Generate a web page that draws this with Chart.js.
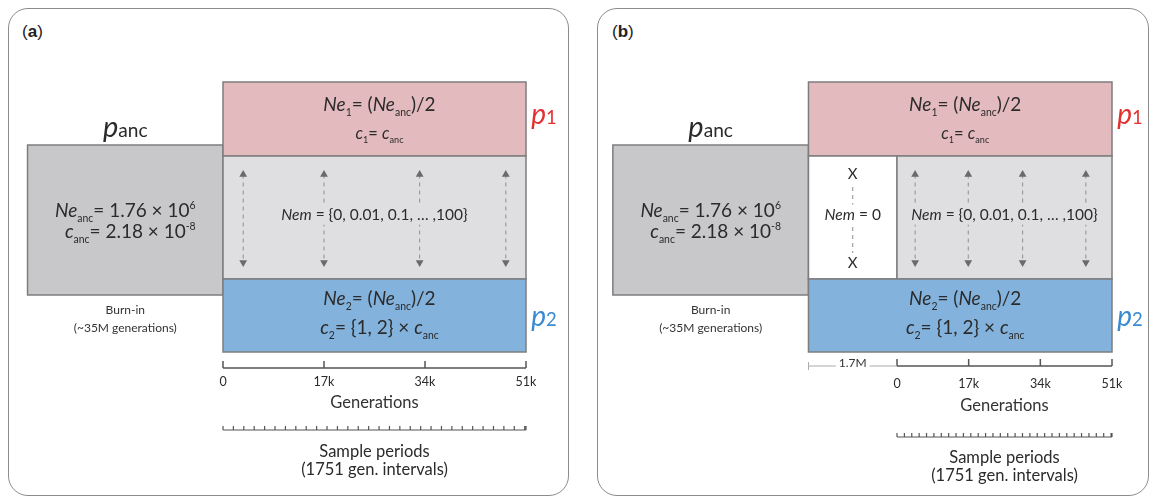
<!DOCTYPE html>
<html lang="en">
<head>
<meta charset="UTF-8">
<title>Simulation design: burn-in, split and gene flow</title>
<style>
    body { margin: 0; background: #fff; font-family: Lato, sans-serif; }
    #wrap { position: relative; width: 1156px; height: 500px; overflow: hidden; }
    .panel { position: absolute; top: 8px; height: 488px; border: 1.5px solid #8c8c8c; border-radius: 20px; box-sizing: border-box; }
    #panelA { left: 8px; width: 561px; }
    #panelB { left: 597px; width: 552px; }
    .tag { position: absolute; top: 22px; font: 17px 'Liberation Sans', Arial, sans-serif; color: #222; }
    .tag b { font-weight: bold; }
    canvas { position: absolute; top: 8px; }
    #chartA { left: 8px; }
    #chartB { left: 598px; }
</style>
</head>
<body>
<div id="wrap">
    <div class="panel" id="panelA"></div>
    <div class="panel" id="panelB"></div>
    <span class="tag" style="left:22px">(<b>a</b>)</span>
    <span class="tag" style="left:612px">(<b>b</b>)</span>
    <canvas id="chartA" width="560" height="488"></canvas>
    <canvas id="chartB" width="550" height="488"></canvas>
</div>

<script src="https://cdn.jsdelivr.net/npm/chart.js"></script>
<script>
    // values
    const genTicks = [0, 17000, 34000, 51000];
    const genEnd = 51000;
    const sampleInterval = 1751;
    const isolationLabel = '1.7M';
    const nemSet = ['0', '0.01', '0.1', '…', '100'];
    const neAnc = ['1.76', '6'];
    const cAnc = ['2.18', '-8'];
    const c2Multipliers = [1, 2];
    const burnInLength = '~35M';
    const arrowGensA = [3400, 17000, 33100, 47600];
    const arrowGensB = [4300, 16900, 29800, 44800];

    const colors = { p1: '#e3bbbe', mig: '#dfdfe1', p2: '#83b2dc', anc: '#c8c8ca', edge: '#7d7d7d', text: '#2b2b2b' };

    // draw a line of text made of italic / sub / sup pieces, centred on cx
    function richText(ctx, cx, base, size, parts, color) {
        const items = parts.map(([t, k]) => {
            let s = size, dy = 0, it = false;
            if (k === 'i') it = true;
            if (k === 'sub') { s = size * 0.55; dy = size * 0.24; }
            if (k === 'sup') { s = size * 0.55; dy = -size * 0.42; }
            if (k === 'small') s = size * 0.66;
            const font = (it ? 'italic ' : '') + s + 'px Lato';
            ctx.font = font;
            return { t, font, dy, w: ctx.measureText(t).width };
        });
        const total = items.reduce((a, b) => a + b.w, 0);
        let x = cx - total / 2;
        ctx.textAlign = 'left';
        ctx.textBaseline = 'alphabetic';
        ctx.fillStyle = color || colors.text;
        items.forEach(p => { ctx.font = p.font; ctx.fillText(p.t, x, base + p.dy); x += p.w; });
        return total;
    }

    const schematic = {
        id: 'schematic',
        beforeDatasetsDraw(chart, args, o) {
            const { ctx } = chart;
            const X = v => chart.scales.x.getPixelForValue(v);
            const Y = v => chart.scales.y.getPixelForValue(v);
            const rect = (g0, g1, r, fill) => {
                const x0 = X(g0), x1 = X(g1), y0 = Y(r[0]), y1 = Y(r[1]);
                ctx.fillStyle = fill;
                ctx.fillRect(x0, y0, x1 - x0, y1 - y0);
                ctx.strokeStyle = colors.edge;
                ctx.lineWidth = 1.5;
                ctx.strokeRect(x0, y0, x1 - x0, y1 - y0);
            };
            ctx.save();
            rect(o.burnStart, o.split, o.rows.anc, colors.anc);
            rect(o.split, genEnd, o.rows.p1, colors.p1);
            if (o.split < 0) rect(o.split, 0, o.rows.mig, '#ffffff');
            rect(0, genEnd, o.rows.mig, colors.mig);
            rect(o.split, genEnd, o.rows.p2, colors.p2);
            ctx.restore();
        },
        afterDatasetsDraw(chart, args, o) {
            const { ctx, chartArea } = chart;
            const X = v => chart.scales.x.getPixelForValue(v);
            const Y = v => chart.scales.y.getPixelForValue(v);
            ctx.save();
            const ancX = (X(o.burnStart) + X(o.split)) / 2;
            const midX = (X(0) + X(genEnd)) / 2;

            // ancestral population
            richText(ctx, ancX, Y(55), 29, [['p', 'i'], ['anc', 'small']]);
            richText(ctx, ancX, Y(135), 19, [['Ne', 'i'], ['anc', 'sub'], ['= ' + neAnc[0] + ' × 10', 'r'], [neAnc[1], 'sup']]);
            richText(ctx, ancX + 5, Y(156), 19, [['c', 'i'], ['anc', 'sub'], ['= ' + cAnc[0] + ' × 10', 'r'], [cAnc[1], 'sup']]);
            richText(ctx, ancX, Y(232), 12, [['Burn-in', 'r']], '#333');
            richText(ctx, ancX, Y(250), 12, [['(' + burnInLength + ' generations)', 'r']], '#333');

            // daughter populations
            const boxX = (X(o.split) + X(genEnd)) / 2 + 5;
            richText(ctx, boxX, Y(29), 19, [['Ne', 'i'], ['1', 'sub'], ['= (', 'r'], ['Ne', 'i'], ['anc', 'sub'], [')/2', 'r']]);
            richText(ctx, boxX, Y(57), 16.5, [['c', 'i'], ['1', 'sub'], ['= ', 'r'], ['c', 'i'], ['anc', 'sub']]);
            richText(ctx, boxX, Y(223), 19, [['Ne', 'i'], ['2', 'sub'], ['= (', 'r'], ['Ne', 'i'], ['anc', 'sub'], [')/2', 'r']]);
            richText(ctx, boxX, Y(252), 19, [['c', 'i'], ['2', 'sub'], ['= {' + c2Multipliers.join(', ') + '} × ', 'r'], ['c', 'i'], ['anc', 'sub']]);
            richText(ctx, X(genEnd) + 18, Y(42), 28, [['p', 'i'], ['1', 'small']], '#e42f2f');
            richText(ctx, X(genEnd) + 18, Y(244), 28, [['p', 'i'], ['2', 'small']], '#3a8ad2');

            // migration labels, with a patch behind them to break the dashed arrows
            const nemText = '= {' + nemSet.slice(0, 3).join(', ') + ', ' + nemSet[3] + ' ,' + nemSet[4] + '}';
            const label = (cx, cy, size, parts, bg) => {
                const w = richText(ctx, -9999, 0, size, parts);
                ctx.fillStyle = bg;
                ctx.fillRect(cx - w / 2 - 3, cy - size, w + 6, size * 1.3);
                richText(ctx, cx, cy, size, parts);
            };
            label(midX, Y(138), 15.5, [['Nem', 'i'], [' ' + nemText, 'r']], colors.mig);
            if (o.split < 0) {
                const cx = X(o.split / 2);
                label(cx, Y(138), 15.5, [['Nem', 'i'], [' = ' + nemSet[0], 'r']], '#ffffff');
                label(cx, Y(97), 15, [['X', 'r']], '#ffffff');
                label(cx, Y(186), 15, [['X', 'r']], '#ffffff');
            }

            // generations axis: line with upward ticks
            const ay = chartArea.bottom;
            ctx.strokeStyle = '#555';
            ctx.lineWidth = 1.5;
            ctx.beginPath();
            ctx.moveTo(X(0), ay); ctx.lineTo(X(genEnd), ay);
            genTicks.forEach(g => { ctx.moveTo(X(g), ay); ctx.lineTo(X(g), ay - 7); });
            ctx.stroke();

            if (o.split < 0) {
                ctx.strokeStyle = '#aaa';
                ctx.lineWidth = 1;
                ctx.beginPath();
                ctx.moveTo(X(o.split), ay); ctx.lineTo(X(0), ay);
                ctx.moveTo(X(o.split), ay - 4); ctx.lineTo(X(o.split), ay + 4);
                ctx.stroke();
                ctx.font = '12px Lato';
                const w = ctx.measureText(isolationLabel).width;
                ctx.fillStyle = '#fff';
                ctx.fillRect(X(o.split / 2) - w / 2 - 3, ay - 10, w + 6, 13);
                richText(ctx, X(o.split / 2), ay + 1, 12, [[isolationLabel, 'r']], '#333');
            }

            // sample periods axis
            const sy = ay + o.sampleOffset;
            ctx.strokeStyle = '#555';
            ctx.lineWidth = 1.2;
            ctx.beginPath();
            ctx.moveTo(X(0), sy); ctx.lineTo(X(genEnd), sy);
            for (let g = 0; g <= genEnd; g += sampleInterval) { ctx.moveTo(X(g), sy); ctx.lineTo(X(g), sy - 4); }
            ctx.moveTo(X(genEnd), sy); ctx.lineTo(X(genEnd), sy - 4);
            ctx.stroke();
            richText(ctx, midX, sy + o.sampleOffset2, 16.5, [['Sample periods', 'r']]);
            richText(ctx, midX, sy + o.sampleOffset2 + 18, 16.5, [['(' + sampleInterval + ' gen. intervals)', 'r']]);
            ctx.restore();
        }
    };

    function makePanel(id, arrows, cfg) {
        cfg.rows = { p1: [0, 74], mig: [74, 197], p2: [197, 270], anc: [63, 213] };
        const datasets = arrows.map(g => ({
            data: [{ x: g, y: 92.5 }, { x: g, y: 180.5 }],
            showLine: true,
            borderColor: '#8e8e8e',
            borderWidth: 1,
            borderDash: [4, 4],
            pointStyle: 'triangle',
            pointRotation: [0, 180],
            pointRadius: 4.5,
            pointBackgroundColor: '#6a6a6a',
            pointBorderWidth: 0,
            clip: false
        }));
        if (cfg.split < 0) {
            // no gene flow right after the split: dashed link between the two X marks
            datasets.push({
                data: [{ x: cfg.split / 2, y: 97 }, { x: cfg.split / 2, y: 180 }],
                showLine: true,
                borderColor: '#8e8e8e',
                borderWidth: 1,
                borderDash: [4, 4],
                pointRadius: 0,
                clip: false
            });
        }
        return new Chart(document.getElementById(id), {
            type: 'scatter',
            data: { datasets },
            options: {
                responsive: false,
                animation: false,
                events: [],
                layout: { padding: { left: cfg.left, right: cfg.right, top: 74, bottom: cfg.bottom } },
                plugins: { legend: { display: false }, tooltip: { enabled: false }, schematic: cfg },
                scales: {
                    x: {
                        type: 'linear', min: 0, max: genEnd,
                        afterBuildTicks: s => { s.ticks = genTicks.map(v => ({ value: v })); },
                        afterFit: s => { s.height = 50; },
                        border: { display: false },
                        grid: { display: false, drawTicks: false },
                        ticks: { padding: cfg.tickPad, color: '#2b2b2b', font: { size: 12.5, family: 'Lato' }, callback: v => v ? (v / 1000) + 'k' : '0' },
                        title: { display: true, text: 'Generations', color: '#333', font: { size: 16.5, family: 'Lato' }, padding: { top: 0, bottom: cfg.titlePad } }
                    },
                    y: { type: 'linear', display: false, reverse: true, min: 0, max: cfg.axisOffset }
                }
            },
            plugins: [schematic]
        });
    }

    makePanel('chartA', arrowGensA, { left: 215, right: 42, bottom: 78, tickPad: 6, titlePad: 5, axisOffset: 286, burnStart: -32900, split: 0, sampleOffset: 62, sampleOffset2: 27 });
    makePanel('chartB', arrowGensB, { left: 299, right: 36, bottom: 80, tickPad: 10, titlePad: 0, axisOffset: 284, burnStart: -67400, split: -21000, sampleOffset: 71, sampleOffset2: 26 });
</script>
</body>
</html>
